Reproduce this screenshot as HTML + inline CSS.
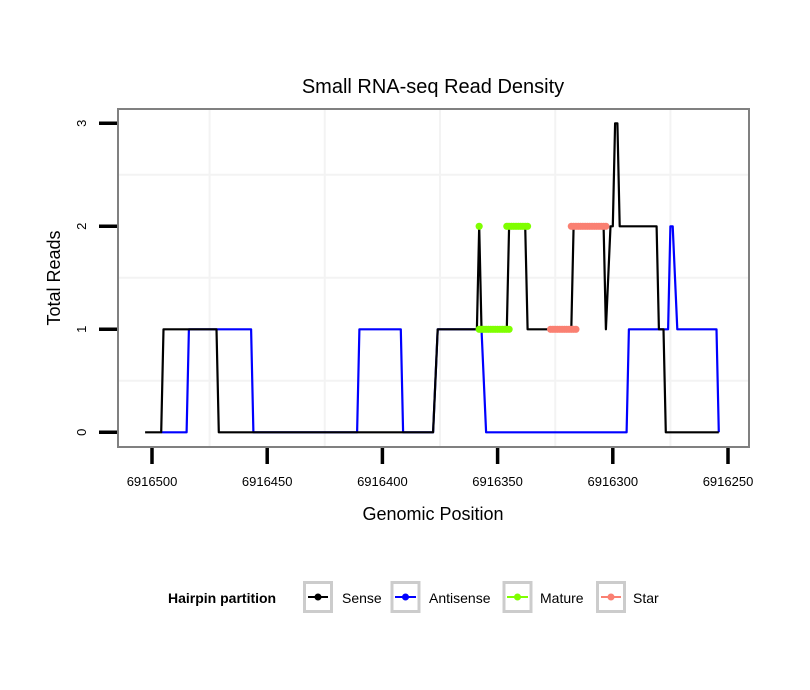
<!DOCTYPE html>
<html><head><meta charset="utf-8"><style>
body{margin:0;background:#fff;}
svg{display:block;font-family:"Liberation Sans",sans-serif;}
</style></head><body>
<svg id="chart" width="810" height="690">
<rect width="810" height="690" fill="#fff"/>
<text x="433" y="93" text-anchor="middle" font-size="20">Small RNA-seq Read Density</text>
<g id="grid"></g>
<g id="series"></g>
<rect x="118" y="109" width="631" height="338" fill="none" stroke="#808080" stroke-width="2"/>
<g id="axes"></g>
<text x="433" y="520" text-anchor="middle" font-size="18">Genomic Position</text>
<text transform="translate(60,278) rotate(-90)" text-anchor="middle" font-size="18">Total Reads</text>
<g>
<text x="168" y="603" font-size="14" font-weight="bold">Hairpin partition</text>
<g><rect x="304.5" y="582.5" width="27" height="29" fill="#fff" stroke="#ccc" stroke-width="3"/><line x1="308" x2="328" y1="597" y2="597" stroke="#000" stroke-width="2"/><circle cx="318" cy="597" r="3.5" fill="#000"/><text x="342" y="603" font-size="14">Sense</text></g>
<g><rect x="392" y="582.5" width="27" height="29" fill="#fff" stroke="#ccc" stroke-width="3"/><line x1="395" x2="416" y1="597" y2="597" stroke="#00f" stroke-width="2"/><circle cx="405.5" cy="597" r="3.5" fill="#00f"/><text x="429" y="603" font-size="14">Antisense</text></g>
<g><rect x="504" y="582.5" width="27" height="29" fill="#fff" stroke="#ccc" stroke-width="3"/><line x1="507" x2="528" y1="597" y2="597" stroke="#7fff00" stroke-width="2"/><circle cx="517.5" cy="597" r="3.5" fill="#7fff00"/><text x="540" y="603" font-size="14">Mature</text></g>
<g><rect x="597.5" y="582.5" width="27" height="29" fill="#fff" stroke="#ccc" stroke-width="3"/><line x1="601" x2="621" y1="597" y2="597" stroke="#fa8072" stroke-width="2"/><circle cx="611" cy="597" r="3.5" fill="#fa8072"/><text x="633" y="603" font-size="14">Star</text></g>
</g>
</svg>
<script>
const xTicks = [6916500, 6916450, 6916400, 6916350, 6916300, 6916250];
const xMinor = [6916475, 6916425, 6916375, 6916325, 6916275];
const yTicks = [0, 1, 2, 3];
const yMinor = [0.5, 1.5, 2.5];
const senseX = [6916503,6916496,6916495,6916472,6916471,6916378,6916376,6916359,6916358,6916357,6916346,6916345,6916338,6916337,6916318,6916317,6916304,6916303,6916301,6916300,6916299,6916298,6916297,6916281,6916280,6916278,6916277,6916254];
const senseY = [0,0,1,1,0,0,1,1,2,1,1,2,2,1,1,2,2,1,2,2,3,3,2,2,1,1,0,0];
const antiX = [6916496,6916485,6916484,6916457,6916456,6916411,6916410,6916392,6916391,6916378,6916376,6916357,6916355,6916294,6916293,6916276,6916275,6916274,6916272,6916255,6916254];
const antiY = [0,0,1,1,0,0,1,1,0,0,1,1,0,0,1,1,2,2,1,1,0];
const matureStart = [6916358, 6916346, 6916358];
const matureEnd = [6916358, 6916337, 6916345];
const matureVal = [2, 2, 1];
const starStart = [6916327, 6916318];
const starEnd = [6916316, 6916303];
const starVal = [1, 2];

const NS = "http://www.w3.org/2000/svg";
const xs = p => 152 + (6916500 - p) * 2.304;
const ys = v => 432.3 - v * 103;
function mk(tag, attrs, parent){const e=document.createElementNS(NS,tag);for(const k in attrs)e.setAttribute(k,attrs[k]);parent.appendChild(e);return e;}
const grid=document.getElementById('grid'), series=document.getElementById('series'), axes=document.getElementById('axes');
xMinor.forEach(p=>{const l=mk('line',{x1:xs(p),x2:xs(p),y1:110,y2:446,stroke:'#f3f3f3','stroke-width':2},grid);

});
yMinor.forEach(v=>{const l=mk('line',{x1:119,x2:748,y1:ys(v),y2:ys(v),stroke:'#f3f3f3','stroke-width':2},grid);

});
function path(X,Y,color,name){let d=X.map((p,i)=>(i?'L':'M')+xs(p).toFixed(1)+','+ys(Y[i]).toFixed(1)).join('');
const e=mk('path',{d:d,fill:'none',stroke:color,'stroke-width':2.2,'stroke-linejoin':'round'},series);

}
path(antiX,antiY,'#00f','antisense-line');
path(senseX,senseY,'#000','sense-line');
function pts(S,E,V,color,name){S.forEach((s,i)=>{const lo=Math.min(s,E[i]),hi=Math.max(s,E[i]);for(let p=lo;p<=hi;p++){const c=mk('circle',{cx:xs(p),cy:ys(V[i]),r:3.6,fill:color},series);

}});}
pts(matureStart,matureEnd,matureVal,'#7fff00','mature-point');
pts(starStart,starEnd,starVal,'#fa8072','star-point');
xTicks.forEach(p=>{const t=mk('line',{x1:xs(p),x2:xs(p),y1:448,y2:464,stroke:'#000','stroke-width':3.5},axes);


const tx=mk('text',{x:xs(p),y:486,'text-anchor':'middle','font-size':13},axes);tx.textContent=p;

});
yTicks.forEach(v=>{const t=mk('line',{x1:99,x2:117,y1:ys(v),y2:ys(v),stroke:'#000','stroke-width':3.5},axes);


const tx=mk('text',{transform:'translate(86,'+ys(v)+') rotate(-90)','text-anchor':'middle','font-size':13},axes);tx.textContent=v;

});
</script>
</body></html>
